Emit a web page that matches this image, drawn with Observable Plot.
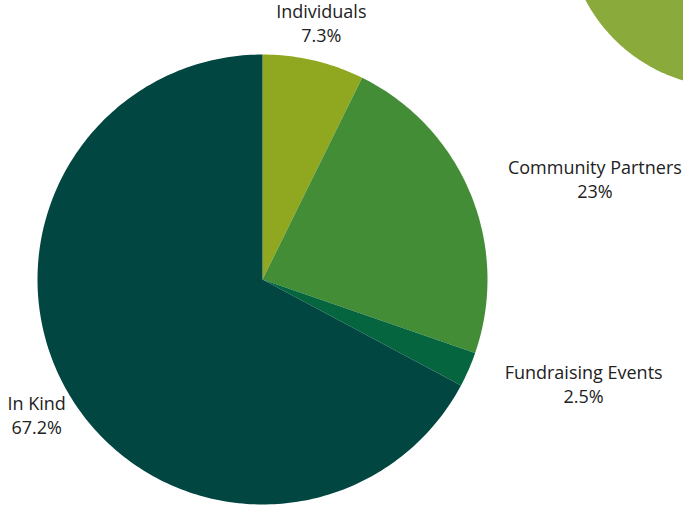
<!DOCTYPE html>
<html>
<head>
<meta charset="utf-8">
<script src="https://cdn.jsdelivr.net/npm/d3@7"></script>
<script src="https://cdn.jsdelivr.net/npm/@observablehq/plot@0.6"></script>
<style>
  html, body { margin: 0; padding: 0; background: #fff; overflow: hidden; }
  #chart { width: 683px; height: 508px; overflow: hidden; }
</style>
</head>
<body>
<div id="chart"></div>
<script>
// ---- data ----
const categories = ["Individuals", "Community Partners", "Fundraising Events", "In Kind"];
const shares = [7.3, 23, 2.5, 67.2];
const valueLabels = ["7.3%", "23%", "2.5%", "67.2%"];
const colors = ["#8fa81f", "#448d37", "#05653f", "#024641"];

// ---- geometry (pixel frame → unit frame, radius = 1) ----
const W = 683, H = 508, CX = 262, CY = 279, R = 225;
const TAU = Math.PI * 2;
const total = d3.sum(shares);

// slice polygons, clockwise from 12 o'clock
const slicePts = [];
let acc = 0;
shares.forEach((v, i) => {
  const a0 = acc / total * TAU, a1 = (acc + v) / total * TAU;
  acc += v;
  const n = Math.max(2, Math.ceil((a1 - a0) / TAU * 360));
  slicePts.push({label: categories[i], x: 0, y: 0});
  for (let k = 0; k <= n; k++) {
    const a = a0 + (a1 - a0) * k / n;
    slicePts.push({label: categories[i], x: Math.sin(a), y: Math.cos(a)});
  }
  slicePts.push({label: categories[i], x: 0, y: 0});
});

// label anchors: mid-angle at 1.15 radius, then layout nudges (px)
const nudges = {"Individuals": [0, -3], "Community Partners": [93, -1], "Fundraising Events": [84, 2], "In Kind": [-4, 4]};
let acc2 = 0;
const labels = shares.map((v, i) => {
  const mid = (acc2 + v / 2) / total * TAU;
  acc2 += v;
  const [dx, dy] = nudges[categories[i]];
  return {
    name: categories[i],
    value: valueLabels[i],
    x: 1.15 * Math.sin(mid) + dx / R,
    y: 1.15 * Math.cos(mid) - dy / R
  };
});

// decorative circle in top-right corner
const deco = {cx: (730 - CX) / R, cy: (CY + 77) / R, r: 164 / R};
const decoPts = d3.range(0, 361).map(d => ({
  x: deco.cx + deco.r * Math.sin(d / 180 * Math.PI),
  y: deco.cy + deco.r * Math.cos(d / 180 * Math.PI)
}));

const chart = Plot.plot({
  width: W,
  height: H,
  margin: 0,
  style: {fontFamily: "'Open Sans', sans-serif", fontSize: "18px", background: "#fff", color: "#222"},
  x: {domain: [-CX / R, (W - CX) / R], axis: null},
  y: {domain: [(CY - H) / R, CY / R], axis: null},
  color: {domain: categories, range: colors},
  marks: [
    Plot.line(decoPts, {x: "x", y: "y", fill: "#8aab3c", stroke: null}),
    Plot.line(slicePts, {x: "x", y: "y", z: "label", fill: "label", stroke: null}),
    Plot.text(labels, {x: "x", y: "y", text: "name", dy: -12, fill: "#222", fontSize: 18}),
    Plot.text(labels, {x: "x", y: "y", text: "value", dy: 12, fill: "#222", fontSize: 18})
  ]
});
document.getElementById("chart").appendChild(chart);
</script>
</body>
</html>
